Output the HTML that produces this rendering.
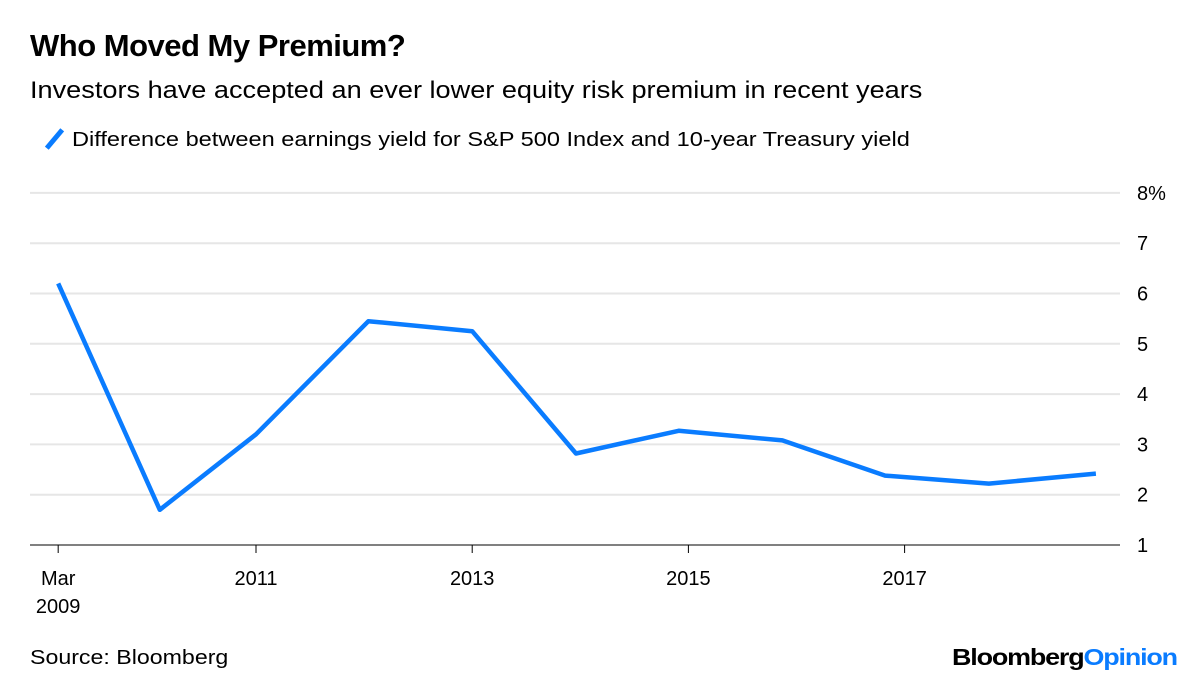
<!DOCTYPE html>
<html><head><meta charset="utf-8">
<style>
body{margin:0;background:#fff;font-family:"Liberation Sans",sans-serif;}
#wrap{position:relative;width:1200px;height:684px;overflow:hidden;}
.t{position:absolute;white-space:nowrap;color:#000;transform-origin:0 0;}
</style></head>
<body><div id="wrap">
<div class="t" style="left:30px;top:28px;font-size:31px;font-weight:bold;letter-spacing:-0.5px">Who Moved My Premium?</div>
<div class="t" style="left:30px;top:77px;font-size:24px;transform:scaleX(1.13)">Investors have accepted an ever lower equity risk premium in recent years</div>
<span style="position:absolute;left:52px;top:127px;width:5px;height:24px;background:#0a7cff;transform:rotate(40deg)"></span>
<div class="t" style="left:72px;top:128px;font-size:20.5px;transform:scaleX(1.15)">Difference between earnings yield for S&amp;P 500 Index and 10-year Treasury yield</div>
<svg id="chart" width="1200" height="684" style="position:absolute;left:0;top:0"></svg>
<div class="t" style="left:30px;top:646px;font-size:20.5px;transform:scaleX(1.13)">Source: Bloomberg</div>
<div class="t" style="left:952px;top:644px;font-size:23px;font-weight:bold;letter-spacing:-1px;transform:scaleX(1.17)">Bloomberg<span style="color:#0a7cff">Opinion</span></div>
</div>
<script>
const years=[2009.17,2010.11,2011.0,2012.04,2013.0,2013.96,2014.91,2015.87,2016.82,2017.78,2018.77];
const values=[6.2,1.7,3.2,5.45,5.25,2.82,3.27,3.08,2.38,2.22,2.42];
const yTicks=[1,2,3,4,5,6,7,8];
const xTickYears=[2009.17,2011,2013,2015,2017];
const xTickLabels=["Mar","2011","2013","2015","2017"];
const NS="http://www.w3.org/2000/svg";
const svg=document.getElementById('chart');
const xs=t=>256+(t-2011)*108.1;
const ys=v=>545-(v-1)*50.3;
function mk(tag,attrs){const e=document.createElementNS(NS,tag);for(const k in attrs)e.setAttribute(k,attrs[k]);svg.appendChild(e);return e;}
yTicks.forEach(v=>{
  const g=mk('line',{x1:30,x2:1120,y1:ys(v),y2:ys(v),stroke:v===1?'#000':'#e6e6e6','stroke-width':v===1?1:2});
  
  
  const t=mk('text',{x:1137,y:ys(v)+7,'font-size':20,'font-family':'Liberation Sans, sans-serif'});
  t.textContent=v===8?'8%':String(v);
  
  
});
xTickYears.forEach((yr,i)=>{
  const x=xs(yr);
  const l=mk('line',{x1:x,x2:x,y1:545,y2:553,stroke:'#000','stroke-width':1});
  
  
  const t=mk('text',{x:x,y:585,'font-size':20,'text-anchor':'middle','font-family':'Liberation Sans, sans-serif','textLength':i===0?null:46});
  t.removeAttribute('textLength');
  t.textContent=xTickLabels[i];
  
  
});
const t2=mk('text',{x:xs(xTickYears[0]),y:613,'font-size':20,'text-anchor':'middle','font-family':'Liberation Sans, sans-serif'});
t2.textContent='2009';


const pts=years.map((t,i)=>xs(t).toFixed(1)+','+ys(values[i]).toFixed(1)).join(' ');
const pl=mk('polyline',{points:pts,fill:'none',stroke:'#0a7cff','stroke-width':4.5,'stroke-linejoin':'round'});


</script>
</body></html>
